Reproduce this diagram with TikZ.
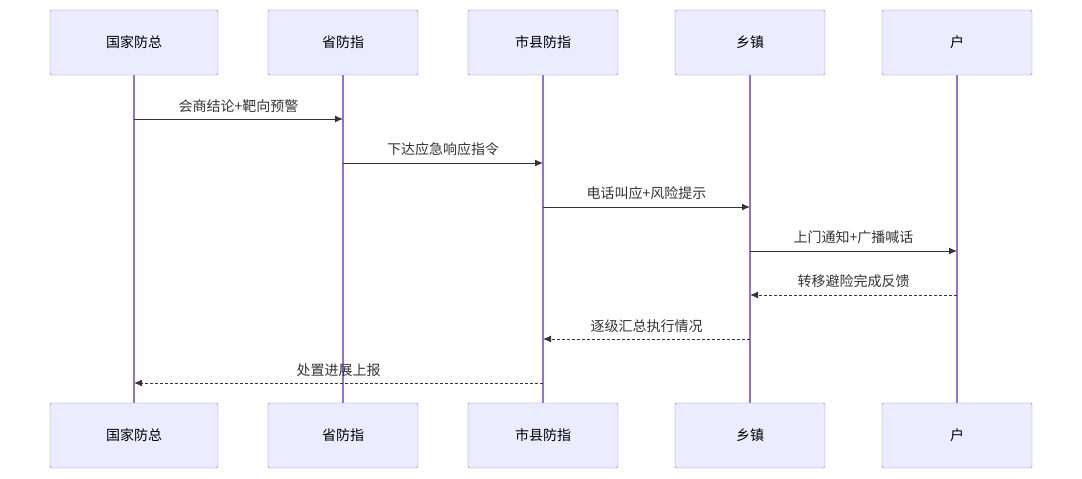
\documentclass[tikz,border=0pt]{standalone}
\usepackage{fontspec}
\newfontfamily\cjk{Noto Sans CJK SC}
\usetikzlibrary{arrows.meta,positioning}
\definecolor{actorfill}{HTML}{ECECFF}
\definecolor{actorline}{HTML}{9370DB}
\definecolor{msgcolor}{HTML}{333333}
\tikzset{
  actor/.style={draw=actorline, fill=actorfill, rounded corners=2pt, minimum height=65pt, font=\cjk\fontsize{14}{16}\selectfont, text=black},
  life/.style={actorline, line width=1.2pt},
  msg/.style={msgcolor, line width=1pt, -{Latex[length=8pt,width=7pt]}},
  reply/.style={msg, dash pattern=on 3pt off 2pt},
  mlabel/.style={above=3pt, font=\cjk\fontsize{14}{16}\selectfont, text=msgcolor}
}
\begin{document}
\begin{tikzpicture}[x=1pt,y=-1pt]
\useasboundingbox (0,0) rectangle (1082,479);
% actors, top and bottom
\foreach \n/\x/\w/\t in {a/134/168/国家防总/部委值班室, b/343/150/省防指, c/543/150/市县防指, d/750/150/乡镇/村责任人, e/957/150/户/人}{
  \draw[life] (\x,75) -- (\x,403);
  \node[actor, minimum width=\w pt] (\n top) at (\x,42.5) {\t};
  \node[actor, minimum width=\w pt] (\n bot) at (\x,435.5) {\t};
}
% messages
\foreach \s/\d/\y/\st/\t in {a/b/119/msg/会商结论+靶向预警, b/c/163/msg/下达应急响应指令, c/d/207/msg/电话叫应+风险提示, d/e/251/msg/上门通知+广播喊话, e/d/295/reply/转移避险完成反馈, d/c/339/reply/逐级汇总执行情况, c/a/383/reply/处置进展上报}{
  \coordinate (\s\y) at (\s top.south |- 0,\y);
  \coordinate (\d\y) at (\d top.south |- 0,\y);
  \draw[\st] (\s\y) -- (\d\y) node[midway, mlabel] {\t};
}
\end{tikzpicture}
\end{document}
